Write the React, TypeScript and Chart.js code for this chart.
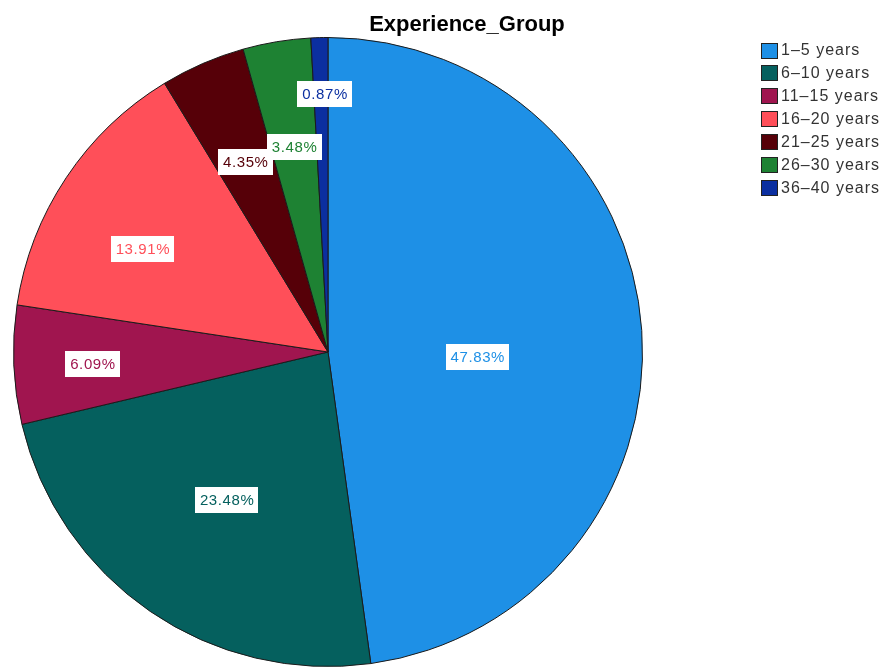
import React, { useEffect, useRef } from "react";
import { Chart, registerables } from "chart.js";

Chart.register(...registerables);

const categories = ["1–5 years", "6–10 years", "11–15 years", "16–20 years", "21–25 years", "26–30 years", "36–40 years"];
const percents = [47.83, 23.48, 6.09, 13.91, 4.35, 3.48, 0.87];
const colors = ["#1E90E6", "#05605E", "#A0154F", "#FF4F59", "#560008", "#1E8233", "#0B2FA0"];
const labelRadiusFrac = [0.475, 0.57, 0.75, 0.675, 0.66, 0.66, 0.82];
const labelAngleShiftDeg = [5.8, 0, -0.6, -4.6, 0, 0, 0.8];
const titleText = "Experience_Group";

const W = 883;
const H = 669;

const overlayPlugin = {
  id: "overlay",
  afterDraw(chart: any) {
    const ctx = chart.ctx as any;
    const meta = chart.getDatasetMeta(0);
    ctx.save();
    // slice labels
    ctx.font = "15px 'Liberation Sans', Arial, sans-serif";
    ctx.letterSpacing = "0.6px";
    ctx.textBaseline = "middle";
    ctx.textAlign = "center";
    meta.data.forEach((arc: any, i: number) => {
      const { x, y, startAngle, endAngle, outerRadius } = arc.getProps(["x", "y", "startAngle", "endAngle", "outerRadius"], true);
      const mid = (startAngle + endAngle) / 2 + (labelAngleShiftDeg[i] * Math.PI) / 180;
      const r = outerRadius * labelRadiusFrac[i];
      const lx = x + Math.cos(mid) * r;
      const ly = y + Math.sin(mid) * r;
      const text = percents[i].toFixed(2) + "%";
      const tw = ctx.measureText(text).width;
      const bw = tw + 9;
      const bh = 26;
      ctx.fillStyle = "#ffffff";
      ctx.fillRect(Math.round(lx - bw / 2), Math.round(ly - bh / 2), Math.round(bw), bh);
      ctx.fillStyle = colors[i];
      ctx.fillText(text, lx + 0.5, ly + 1);
    });
    // title
    ctx.letterSpacing = "0px";
    ctx.fillStyle = "#000000";
    ctx.font = "bold 22px 'Liberation Sans', Arial, sans-serif";
    ctx.textAlign = "center";
    ctx.textBaseline = "alphabetic";
    ctx.fillText(titleText, 467, 31);
    // legend
    ctx.font = "16px 'Liberation Sans', Arial, sans-serif";
    ctx.letterSpacing = "1px";
    ctx.textAlign = "left";
    ctx.textBaseline = "middle";
    categories.forEach((c, i) => {
      const yy = 50 + i * 22.9;
      ctx.fillStyle = colors[i];
      ctx.fillRect(761.5, Math.round(yy - 7.5) + 0.5, 16, 15);
      ctx.strokeStyle = "#222222";
      ctx.lineWidth = 1;
      ctx.strokeRect(761.5, Math.round(yy - 7.5) + 0.5, 16, 15);
      ctx.fillStyle = "#333333";
      ctx.fillText(c, 781, yy + 1);
    });
    ctx.restore();
  },
};

export default function App() {
  const ref = useRef<HTMLCanvasElement | null>(null);
  useEffect(() => {
    if (!ref.current) return;
    const chart = new Chart(ref.current, {
      type: "pie",
      data: {
        labels: categories,
        datasets: [
          {
            data: percents,
            backgroundColor: colors,
            borderColor: "#1a1a1a",
            borderWidth: 1,
          },
        ],
      },
      options: {
        responsive: false,
        animation: false,
        devicePixelRatio: 1,
        layout: { padding: { left: 13, right: 240, top: 37, bottom: 2 } },
        plugins: {
          legend: { display: false },
          title: { display: false },
          tooltip: { enabled: false },
        },
      },
      plugins: [overlayPlugin],
    });
    return () => chart.destroy();
  }, []);
  return (
    <div style={{ position: "fixed", left: 0, top: 0, width: W, height: H, background: "#ffffff" }}>
      <canvas ref={ref} width={W} height={H} style={{ width: W, height: H, display: "block" }} />
    </div>
  );
}
